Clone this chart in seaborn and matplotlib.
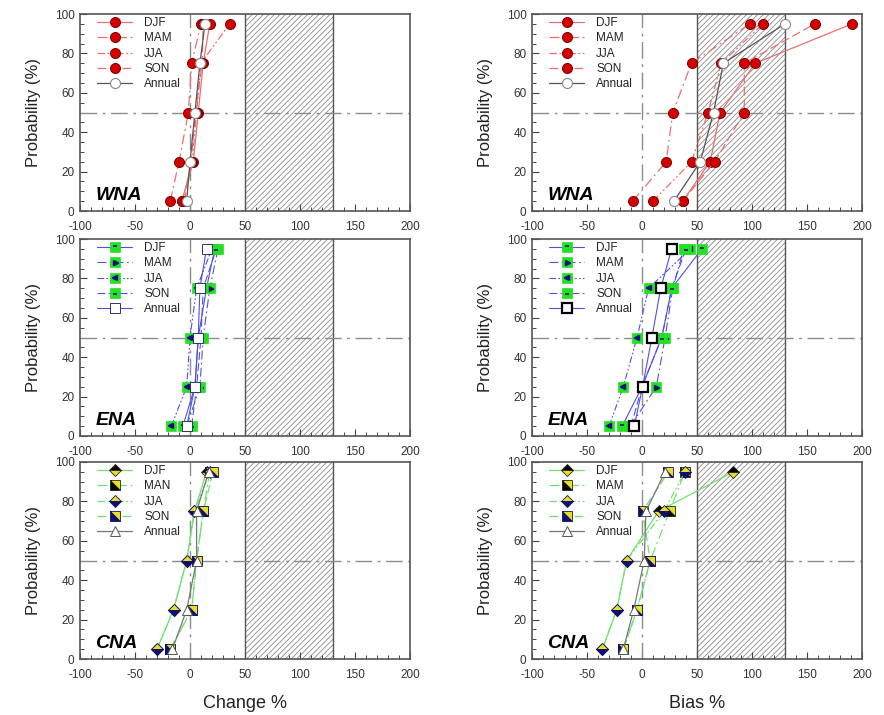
import matplotlib
matplotlib.use("Agg")
import matplotlib.pyplot as plt
import seaborn as sns
import numpy as np
import pandas as pd
from matplotlib.markers import MarkerStyle
from matplotlib.transforms import Affine2D

sns.set_style("white")
plt.rcParams['font.family'] = ['Liberation Sans', 'DejaVu Sans']
plt.rcParams['hatch.linewidth'] = 0.6
plt.rcParams['axes.unicode_minus'] = False

# ---------------- data ----------------
prob = [5, 25, 50, 75, 95]
seasons = ["DJF", "MAM", "JJA", "SON", "Annual"]
seasons_cna_change = ["DJF", "MAN", "JJA", "SON", "Annual"]

wna_change_djf = [-7.5, 3, 7.5, 12, 18]
wna_change_mam = [-18, -10, -1.5, 1.5, 10]
wna_change_jja = [-7, 2, 6, 10, 36]
wna_change_son = [-5, 1, 5, 11, 12]
wna_change_ann = [-3, 0, 4.5, 9, 13.6]

wna_bias_djf = [37, 62, 71, 103, 191]
wna_bias_mam = [-8.5, 22, 28, 45, 98]
wna_bias_jja = [10, 45, 60, 72, 110]
wna_bias_son = [37, 66, 93, 93, 157]
wna_bias_ann = [29, 53, 65, 74, 130]

ena_change_djf = [-6.5, 4.5, 7.5, 15, 22.5]
ena_change_mam = [-3, 9, 12, 18, 25.5]
ena_change_jja = [-17, -3, 0, 6, 20]
ena_change_son = [1.5, 6, 10, 12, 24]
ena_change_ann = [-3, 4.5, 7.5, 9, 15]

ena_bias_djf = [-18, 0, 18, 27, 54.5]
ena_bias_mam = [-10.5, 13, 21, 28, 38]
ena_bias_jja = [-30, -17, -4.5, 6, 44]
ena_bias_son = [-10, 0, 18, 27, 40]
ena_bias_ann = [-7, 0.5, 9, 17, 27]

cna_change_djf = [-30, -15, -3, 4, 15]
cna_change_mam = [-18, 1.5, 6, 12, 18]
cna_change_jja = [-30, -15, -3, 4, 18]
cna_change_son = [-18, 1.5, 6, 12, 21]
cna_change_ann = [-16, -3, 6, 6, 17]

cna_bias_djf = [-36, -23, -14, 15, 83]
cna_bias_mam = [-17, -4.5, 7.5, 25, 39]
cna_bias_jja = [-36, -23, -14, 20, 39]
cna_bias_son = [-17, -4.5, 7.5, 0.5, 24]
cna_bias_ann = [-17, -7.5, 2, 3.6, 21]

# ---------------- styles ----------------
lstyles = ['-', (0, (8, 3, 1.5, 3)), (0, (6, 2, 1.5, 2, 1.5, 2)), (0, (7, 3))]

def sq_diag(fs):
    return MarkerStyle('D', fillstyle=fs, transform=Affine2D().rotate_deg(45))

def style_wna(i, right):
    lc = '#e87070'
    if i < 4:
        return [dict(color=lc, lw=0.9, ls=lstyles[i], marker='o', ms=7.2,
                     mfc='#d40000', mec='#7a0000', mew=0.7)]
    return [dict(color='#555555', lw=0.9, ls='-', marker='o', ms=7.2,
                 mfc='white', mec='#888888', mew=0.8)]

def style_ena(i, right):
    lc = '#5050e0'
    green = '#22e022'
    navy = '#101080'
    if i < 4:
        base = dict(color=lc, lw=0.8, ls=lstyles[i], marker='s', ms=6.5,
                    mfc=green, mec=green, mew=0.5)
        over_markers = [
            MarkerStyle('_', transform=Affine2D().translate(0, 0.22)),
            MarkerStyle('>', transform=Affine2D().translate(0.12, -0.12)),
            MarkerStyle('<', transform=Affine2D().translate(-0.12, 0.12)),
            MarkerStyle('_', transform=Affine2D().translate(0, -0.22)),
        ]
        over = dict(ls='none', marker=over_markers[i], ms=3.5, mfc=navy,
                    mec=navy, mew=1.2)
        return [base, over]
    if right:
        return [dict(color=lc, lw=0.8, ls='-', marker='s', ms=7,
                     mfc='white', mec='black', mew=1.6)]
    return [dict(color=lc, lw=0.8, ls='-', marker='s', ms=6.5,
                 mfc='white', mec='#333366', mew=0.7)]

def style_cna(i, right):
    lc = '#70e070'
    yel = '#e8e020'
    navy = '#101070'
    if i == 0:
        m = dict(marker=MarkerStyle('D', fillstyle='top'), ms=6.3,
                 mfc='black', markerfacecoloralt=yel, mec='#222222', mew=0.6)
    elif i == 1:
        m = dict(marker=sq_diag('left'), ms=7,
                 mfc='black', markerfacecoloralt=yel, mec='#222222', mew=0.6)
    elif i == 2:
        m = dict(marker=MarkerStyle('D', fillstyle='top'), ms=6.3,
                 mfc=yel, markerfacecoloralt=navy, mec=navy, mew=0.6)
    elif i == 3:
        m = dict(marker=sq_diag('left'), ms=7,
                 mfc=navy, markerfacecoloralt=yel, mec=navy, mew=0.6)
    else:
        return [dict(color='#777777', lw=0.9, ls='-', marker='^', ms=7.5,
                     mfc='white', mec='#555555', mew=0.7)]
    d = dict(color=lc, lw=0.9, ls=lstyles[i])
    d.update(m)
    return [d]

panels = [
    ("WNA", False, [wna_change_djf, wna_change_mam, wna_change_jja, wna_change_son, wna_change_ann], seasons, style_wna),
    ("WNA", True, [wna_bias_djf, wna_bias_mam, wna_bias_jja, wna_bias_son, wna_bias_ann], seasons, style_wna),
    ("ENA", False, [ena_change_djf, ena_change_mam, ena_change_jja, ena_change_son, ena_change_ann], seasons, style_ena),
    ("ENA", True, [ena_bias_djf, ena_bias_mam, ena_bias_jja, ena_bias_son, ena_bias_ann], seasons, style_ena),
    ("CNA", False, [cna_change_djf, cna_change_mam, cna_change_jja, cna_change_son, cna_change_ann], seasons_cna_change, style_cna),
    ("CNA", True, [cna_bias_djf, cna_bias_mam, cna_bias_jja, cna_bias_son, cna_bias_ann], seasons, style_cna),
]

fig = plt.figure(figsize=(8.84, 7.15), dpi=100)
W, H = 884.0, 715.0
col_left = [80, 532]
row_top = [14, 239, 462]
aw, ah = 330, 197

for k, (region, right, series, labels, stylefn) in enumerate(panels):
    r, c = divmod(k, 2)
    ax = fig.add_axes([col_left[c] / W, 1 - (row_top[r] + ah) / H, aw / W, ah / H])
    ax.set_xlim(-100, 200)
    ax.set_ylim(0, 100)
    ax.set_facecolor('white')
    # hatched region
    ax.axvspan(50, 130, facecolor='white', edgecolor='#8a8a8a', hatch='//////',
               lw=0, zorder=0)
    ax.axvline(50, color='#555555', lw=1.0, zorder=1)
    ax.axvline(130, color='#555555', lw=1.0, zorder=1)
    # reference lines
    ax.axvline(0, color='#8c8c8c', lw=1.0, ls=(0, (12, 4, 2, 4)), zorder=1)
    ax.axhline(50, color='#8c8c8c', lw=1.0, ls=(0, (12, 4, 2, 4)), zorder=1)

    handles = []
    for i, vals in enumerate(series):
        df = pd.DataFrame({"x": vals, "p": prob})
        sts = stylefn(i, right)
        hs = []
        for j, st in enumerate(sts):
            sns.lineplot(data=df, x="x", y="p", ax=ax, orient="y", sort=False,
                         estimator=None, zorder=3 + i * 0.1 + j * 0.05, **st)
            hs.append(ax.lines[-1])
        handles.append(tuple(hs) if len(hs) > 1 else hs[0])
    leg = ax.legend(handles, labels, loc='upper left', bbox_to_anchor=(0.03, 1.02),
                    frameon=False, fontsize=8.5, handlelength=3.0,
                    handletextpad=1.0, labelspacing=0.28, borderaxespad=0.2)
    for t in leg.get_texts():
        t.set_color('#222222')

    ax.text(-86, 8, region, fontsize=14, fontweight='bold', fontstyle='italic',
            va='center', ha='left', color='black')

    ax.set_xticks(np.arange(-100, 201, 50))
    ax.set_xticks(np.arange(-100, 201, 10), minor=True)
    ax.set_yticks(np.arange(0, 101, 20))
    ax.set_yticks(np.arange(0, 101, 5), minor=True)
    ax.tick_params(which='both', direction='in', colors='#444444', labelcolor='#333333',
                   labelsize=8.5, top=False, right=False, bottom=True, left=True)
    ax.tick_params(which='major', length=5, width=0.8)
    ax.tick_params(which='minor', length=3, width=0.7)
    ax.tick_params(axis='x', which='major', pad=7)
    ax.tick_params(axis='y', which='major', pad=4)
    ax.set_xlabel("")
    ax.set_ylabel("Probability (%)", fontsize=12, color='#222222', labelpad=10)
    for s in ax.spines.values():
        s.set_color('#555555')
        s.set_linewidth(1.2)
        s.set_visible(True)

fig.text(245 / W, 1 - 703 / H, "Change %", fontsize=13, ha='center', va='center', color='#222222')
fig.text(697 / W, 1 - 703 / H, "Bias %", fontsize=13, ha='center', va='center', color='#222222')

fig.savefig("out.png", dpi=100)
